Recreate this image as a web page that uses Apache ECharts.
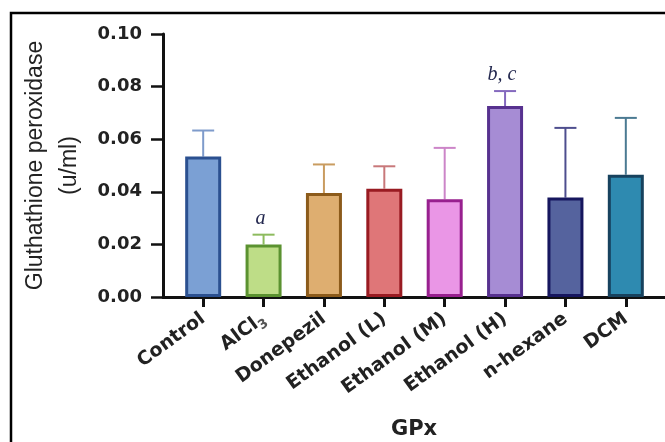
<!DOCTYPE html>
<html>
<head>
<meta charset="utf-8">
<script src="https://cdn.jsdelivr.net/npm/echarts@6/dist/echarts.min.js"></script>
<style>html,body{margin:0;padding:0;background:#fff}#c{width:665px;height:442px}</style>
</head>
<body>
<div id="c"></div>
<script>
const categories = ['Control','AlCl3','Donepezil','Ethanol (L)','Ethanol (M)','Ethanol (H)','n-hexane','DCM'];
const means = [0.0534, 0.0200, 0.0395, 0.0412, 0.0372, 0.0726, 0.0378, 0.0465];
const sdUpper = [0.0099, 0.0037, 0.0109, 0.0085, 0.0195, 0.0057, 0.0265, 0.0216];
const annotations = ['', 'a', '', '', '', 'b, c', '', ''];
const yMin = 0, yMax = 0.10, yStep = 0.02;
const yTitle = 'Gluthathione peroxidase\n(u/ml)';
const xTitle = 'GPx';

const fills = ['#7BA0D4','#BEDD87','#DEAE70','#DF7678','#EA96E6','#A68CD4','#55639E','#2E8AB0'];
const borders = ['#2B5090','#5B9230','#8C5B1B','#991B22','#98208F','#57318F','#16165E','#17425E'];
const errColors = ['#7E9BCB','#8DBB5E','#C99C60','#C8787A','#CC85C8','#8469BE','#4E4E8E','#4B7A92'];

const chart = echarts.init(document.getElementById('c'), null, {renderer:'canvas'});
const axisColor = '#111';
chart.setOption({
  animation: false,
  backgroundColor: '#fff',
  graphic: [{
    type: 'rect', z: -10,
    shape: {x: 11, y: 13, width: 720, height: 520},
    style: {fill: 'none', stroke: '#000', lineWidth: 2.5}
  }],
  grid: [
    {left: 173, right: 9, top: 34, bottom: 145, outerBoundsMode: 'none', containLabel: false},
    {left: 163, right: 0, top: 34, bottom: 145, outerBoundsMode: 'none', containLabel: false}
  ],
  xAxis: [{
    type: 'category', gridIndex: 0, data: categories,
    axisLine: {show: false},
    axisTick: {show: true, alignWithLabel: true, length: 10, lineStyle: {color: axisColor, width: 3}},
    axisLabel: {
      rotate: 36, margin: 20, interval: 0,
      fontFamily: 'DejaVu Sans', fontWeight: 'bold', fontSize: 19, color: '#222',
      formatter: v => v === 'AlCl3' ? '{n|AlCl}{s|3}' : v,
      rich: {
        n: {fontFamily: 'DejaVu Sans', fontWeight: 'bold', fontSize: 19, color: '#222'},
        s: {fontFamily: 'DejaVu Sans', fontSize: 13, color: '#555', verticalAlign: 'bottom', padding: [12, 0, 0, 0]}
      }
    },
    splitLine: {show: false}
  }, {
    type: 'value', gridIndex: 1, min: 0, max: 1,
    axisLine: {show: true, lineStyle: {color: axisColor, width: 3}},
    axisTick: {show: false}, axisLabel: {show: false}, splitLine: {show: false},
    name: xTitle, nameLocation: 'middle', nameGap: 122,
    nameTextStyle: {fontFamily: 'DejaVu Sans', fontWeight: 'bold', fontSize: 21, color: '#222'}
  }],
  yAxis: [{
    type: 'value', gridIndex: 0, min: yMin, max: yMax, interval: yStep, offset: 10,
    axisLine: {show: true, lineStyle: {color: axisColor, width: 3}},
    axisTick: {show: true, length: 12, lineStyle: {color: axisColor, width: 2.5}},
    axisLabel: {margin: 21, fontFamily: 'DejaVu Sans', fontWeight: 'bold', fontSize: 18, color: '#222',
      formatter: v => v.toFixed(2)},
    splitLine: {show: false},
    name: yTitle, nameLocation: 'middle', nameGap: 73, nameRotate: 90,
    nameTextStyle: {fontFamily: 'Liberation Sans', fontSize: 23, lineHeight: 34, color: '#222', align: 'center'}
  }, {
    type: 'value', gridIndex: 1, min: yMin, max: yMax, show: false
  }],
  series: [{
    type: 'custom', xAxisIndex: 0, yAxisIndex: 0, z: 1,
    data: means.map((m, i) => [i, m, sdUpper[i]]),
    renderItem: (params, api) => {
      const i = api.value(0);
      const base = api.coord([i, api.value(1)]);
      const top = api.coord([i, api.value(1) + api.value(2)]);
      const c = errColors[i];
      const half = 11;
      const children = [
        {type: 'line', shape: {x1: base[0], y1: base[1], x2: top[0], y2: top[1]}, style: {stroke: c, lineWidth: 2}},
        {type: 'line', shape: {x1: top[0] - half, y1: top[1], x2: top[0] + half, y2: top[1]}, style: {stroke: c, lineWidth: 2}}
      ];
      if (annotations[i]) {
        children.push({type: 'text', x: top[0] - 3, y: top[1] - 6, style: {
          text: annotations[i], align: 'center', verticalAlign: 'bottom',
          font: 'italic 20px "Liberation Serif"', fill: '#23284f'
        }});
      }
      return {type: 'group', children};
    }
  }, {
    type: 'bar', xAxisIndex: 0, yAxisIndex: 0, z: 2, barWidth: 36,
    data: means.map((m, i) => ({value: m, itemStyle: {color: fills[i], borderColor: borders[i], borderWidth: 3}}))
  }]
});
</script>
</body>
</html>
